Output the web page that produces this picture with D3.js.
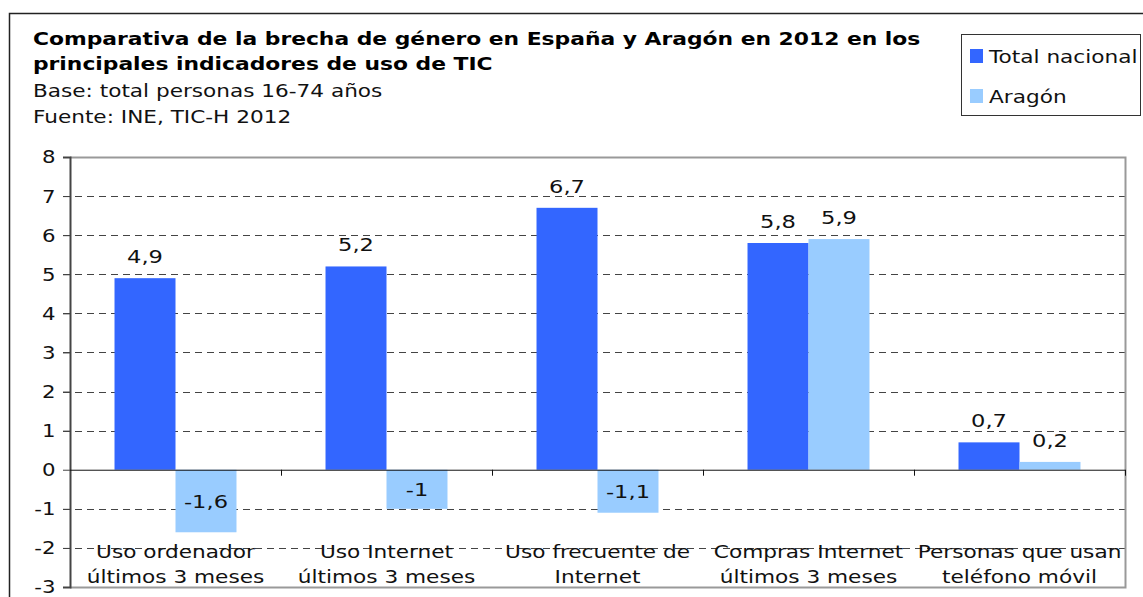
<!DOCTYPE html>
<html>
<head>
<meta charset="utf-8">
<script src="https://cdn.jsdelivr.net/npm/d3@7"></script>
<style>
  body { margin: 0; background: #fff; }
  svg { display: block; font-family: "DejaVu Sans", Verdana, sans-serif; }
</style>
</head>
<body>
<div id="chart"></div>
<script>
const categories = [
    ["Uso ordenador", "últimos 3 meses"],
    ["Uso Internet", "últimos 3 meses"],
    ["Uso frecuente de", "Internet"],
    ["Compras Internet", "últimos 3 meses"],
    ["Personas que usan", "teléfono móvil"]
];
const seriesNames = ["Total nacional", "Aragón"];
const totalNacional = [4.9, 5.2, 6.7, 5.8, 0.7];
const aragon = [-1.6, -1, -1.1, 5.9, 0.2];
const yTicks = [-3, -2, -1, 0, 1, 2, 3, 4, 5, 6, 7, 8];
const colors = ["#3366ff", "#99ccff"];

const width = 1143, height = 597;
const svg = d3.select("#chart").append("svg")
    .attr("width", width)
    .attr("height", height);

// texto ensanchado (la fuente original es más ancha que DejaVu)
function label(parent, x, y, str, size, sx, anchor, bold) {
    return parent.append("text")
        .attr("transform", `translate(${x},${y}) scale(${sx},1)`)
        .attr("text-anchor", anchor || "start")
        .style("font-size", size + "px")
        .style("font-weight", bold ? "bold" : "normal")
        .attr("fill", "#111")
        .text(str);
}

// marco exterior
svg.append("rect")
    .attr("x", 9.5).attr("y", 13.5)
    .attr("width", width + 20).attr("height", height + 20)
    .attr("fill", "none").attr("stroke", "#222").attr("stroke-width", 1.5);

// títulos
const title = svg.append("g");
label(title, 33, 45, "Comparativa de la brecha de género en España y Aragón en 2012 en los", 18.5, 1.18, "start", true).attr("fill", "#000");
label(title, 33, 70, "principales indicadores de uso de TIC", 18.5, 1.18, "start", true).attr("fill", "#000");
label(title, 33, 97, "Base: total personas 16-74 años", 18, 1.2);
label(title, 33, 123, "Fuente: INE, TIC-H 2012", 18, 1.2);

// leyenda
const legend = svg.append("g");
legend.append("rect")
    .attr("x", 961.5).attr("y", 34.5).attr("width", 179).attr("height", 81)
    .attr("fill", "#fff").attr("stroke", "#333").attr("stroke-width", 1);
seriesNames.forEach((name, i) => {
    const g = legend.append("g").attr("transform", `translate(0, ${i * 40})`);
    g.append("rect").attr("x", 970).attr("y", 49).attr("width", 13).attr("height", 14)
        .attr("fill", colors[i]);
    label(g, 989, 63, name, 18.5, 1.17);
});

// área de gráfico
const plotLeft = 70, plotRight = 1125, plotTop = 157, plotBottom = 587;

const x = d3.scaleBand()
    .domain(d3.range(categories.length))
    .range([plotLeft, plotRight])
    .paddingInner(0)
    .paddingOuter(0);

const xSeries = d3.scaleBand()
    .domain(d3.range(seriesNames.length))
    .range([0, x.bandwidth()])
    .paddingOuter(0.73)
    .paddingInner(0);

const y = d3.scaleLinear()
    .domain([-3, 8])
    .range([plotBottom, plotTop]);

// rejilla discontinua
svg.append("g")
    .selectAll("line")
    .data(yTicks.filter(d => d !== 0 && d !== 8 && d !== -3))
    .join("line")
    .attr("x1", plotLeft - 7).attr("x2", plotRight)
    .attr("y1", d => Math.round(y(d)) + 0.5).attr("y2", d => Math.round(y(d)) + 0.5)
    .attr("stroke", "#444").attr("stroke-width", 1)
    .attr("stroke-dasharray", "7,5");

// borde del área
svg.append("path")
    .attr("d", `M${plotLeft},${plotTop + 0.5}H${plotRight + 0.5}V${plotBottom + 0.5}H${plotLeft}`)
    .attr("fill", "none").attr("stroke", "#999").attr("stroke-width", 2);

// eje Y
const yAxis = svg.append("g")
    .attr("transform", `translate(${plotLeft},0)`)
    .call(d3.axisLeft(y).tickValues(yTicks).tickSize(7).tickFormat(d3.format("d")).tickPadding(8));
yAxis.select(".domain").attr("stroke", "#444").attr("stroke-width", 2);
yAxis.selectAll(".tick line").attr("stroke", "#444");
yAxis.selectAll(".tick text")
    .attr("x", -14.5 / 1.15)
    .attr("transform", "scale(1.15,1)")
    .style("font-size", "18.5px")
    .style("font-family", "DejaVu Sans, Verdana, sans-serif")
    .attr("fill", "#111")
    .text(d => d < 0 ? "-" + Math.abs(d) : d);

// barras
const rows = categories.map((c, i) => [totalNacional[i], aragon[i]]);
const groups = svg.append("g")
    .selectAll("g")
    .data(rows)
    .join("g")
    .attr("transform", (d, i) => `translate(${x(i)},0)`);

groups.selectAll("rect")
    .data(d => d.map((v, s) => ({ v, s })))
    .join("rect")
    .attr("x", d => xSeries(d.s))
    .attr("width", xSeries.bandwidth())
    .attr("y", d => y(Math.max(0, d.v)))
    .attr("height", d => Math.abs(y(d.v) - y(0)))
    .attr("fill", d => colors[d.s]);

// etiquetas de valor
const fmt = v => String(v).replace(".", ",");
groups.each(function (d) {
    const g = d3.select(this);
    d.forEach((v, s) => {
        const cx = xSeries(s) + xSeries.bandwidth() / 2;
        const cy = v >= 0 ? y(v) - 15 : (y(0) + y(v)) / 2 + 7;
        label(g, cx, cy, fmt(v), 18.5, 1.22, "middle");
    });
});

// línea de cero y marcas de categoría
svg.append("line")
    .attr("x1", plotLeft).attr("x2", plotRight)
    .attr("y1", y(0) + 0.5).attr("y2", y(0) + 0.5)
    .attr("stroke", "#111").attr("stroke-width", 1);
svg.append("g")
    .selectAll("line")
    .data(d3.range(1, categories.length + 1))
    .join("line")
    .attr("x1", i => Math.round(i === categories.length ? plotRight : x(i)) + 0.5)
    .attr("x2", i => Math.round(i === categories.length ? plotRight : x(i)) + 0.5)
    .attr("y1", y(0)).attr("y2", y(0) + 6)
    .attr("stroke", "#111");

// etiquetas de categoría
const catG = svg.append("g");
categories.forEach((lines, i) => {
    lines.forEach((ln, j) => {
        label(catG, x(i) + x.bandwidth() / 2, 558 + j * 25, ln, 18.5, 1.17, "middle");
    });
});
</script>
</body>
</html>
